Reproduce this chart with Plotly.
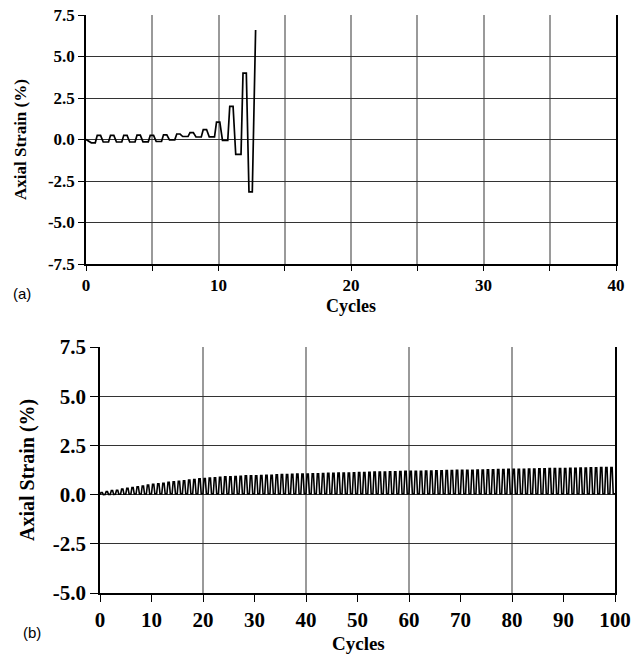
import plotly.graph_objects as go

# ---------------- data ----------------
# (a) peak strain of each cycle 1..12, trough after each peak (cycle 0..12), final value
peak_a = [0.25, 0.25, 0.25, 0.26, 0.25, 0.28, 0.33, 0.42, 0.6, 1.05, 2.0, 4.0]
trough_a = [-0.2, -0.15, -0.15, -0.15, -0.14, -0.12, -0.02, 0.18, 0.15, 0.16, -0.05, -0.9, -3.15]
final_a = 6.6

# (b) peak and trough strain of each cycle 1..100
peak_b = [0.10, 0.15, 0.20, 0.22, 0.28, 0.32, 0.36, 0.40, 0.44, 0.48,
          0.52, 0.55, 0.58, 0.62, 0.65, 0.68, 0.70, 0.74, 0.76, 0.80,
          0.82, 0.84, 0.86, 0.88, 0.90, 0.90, 0.92, 0.93, 0.95, 0.96,
          0.96, 0.97, 0.98, 0.98, 1.00, 1.02, 1.02, 1.03, 1.04, 1.05,
          1.05, 1.06, 1.06, 1.07, 1.08, 1.08, 1.09, 1.10, 1.10, 1.11,
          1.12, 1.12, 1.13, 1.14, 1.14, 1.15, 1.16, 1.16, 1.17, 1.18,
          1.18, 1.18, 1.19, 1.20, 1.20, 1.21, 1.21, 1.22, 1.22, 1.23,
          1.23, 1.24, 1.24, 1.25, 1.25, 1.26, 1.26, 1.27, 1.27, 1.28,
          1.28, 1.29, 1.29, 1.30, 1.30, 1.31, 1.31, 1.32, 1.32, 1.33,
          1.33, 1.34, 1.34, 1.35, 1.35, 1.36, 1.36, 1.37, 1.37, 1.38]
trough_b = [0.00, 0.01, 0.01, 0.02, 0.02, 0.02, 0.03, 0.03, 0.03, 0.03] + [0.04] * 90

xt_a = [0, 5, 10, 15, 20, 25, 30, 35, 40]
xl_a = ["0", "", "10", "", "20", "", "30", "", "40"]
yt_a = [-7.5, -5.0, -2.5, 0.0, 2.5, 5.0, 7.5]
yl_a = ["-7.5", "-5.0", "-2.5", "0.0", "2.5", "5.0", "7.5"]
xt_b = [0, 10, 20, 30, 40, 50, 60, 70, 80, 90, 100]
yt_b = [-5.0, -2.5, 0.0, 2.5, 5.0, 7.5]
yl_b = ["-5.0", "-2.5", "0.0", "2.5", "5.0", "7.5"]

# ---------------- build polylines ----------------
xa, ya = [0.0], [0.0]
for n, p in enumerate(peak_a, start=1):
    t_prev = trough_a[n - 1]
    t_next = trough_a[n]
    xa += [n - 0.6, n - 0.3, n - 0.15, n + 0.1, n + 0.3]
    ya += [t_prev, t_prev, p, p, t_next]
xa += [12.55, 12.8]
ya += [trough_a[-1], final_a]

xb, yb = [], []
for i, (p, t) in enumerate(zip(peak_b, trough_b)):
    c = float(i)
    xb += [c, c + 0.2, c + 0.45, c + 0.65]
    yb += [t, p, p, t]
xb.append(100.0)
yb.append(trough_b[-1])

fig = go.Figure()
fig.add_trace(go.Scatter(x=xa, y=ya, mode="lines", line=dict(color="black", width=1.7),
                         xaxis="x", yaxis="y", showlegend=False))
fig.add_trace(go.Scatter(x=xb, y=yb, mode="lines", line=dict(color="black", width=1.6),
                         xaxis="x2", yaxis="y2", showlegend=False))

tf_a = dict(family="Liberation Serif", size=17, color="black", weight="bold")
tf_b = dict(family="Liberation Serif", size=21, color="black", weight="bold")
vgrid = "#9a9a9a"
hgrid = "#333333"

fig.update_layout(
    width=638, height=657, margin=dict(l=0, r=0, t=0, b=0),
    paper_bgcolor="white", plot_bgcolor="white",
    xaxis=dict(domain=[86 / 638, 616 / 638], anchor="y", range=[0, 40], automargin=False,
               tickvals=xt_a, ticktext=xl_a, ticks="outside", ticklen=5, tickcolor="black",
               showgrid=True, gridcolor=vgrid, gridwidth=1.5, zeroline=False,
               showline=True, linecolor="black", linewidth=1.5, tickfont=tf_a),
    yaxis=dict(domain=[(657 - 264) / 657, (657 - 15) / 657], anchor="x", range=[-7.5, 7.5],
               automargin=False,
               tickvals=yt_a, ticktext=yl_a, ticks="outside", ticklen=6, tickcolor="black",
               showgrid=True, gridcolor=hgrid, gridwidth=1, zeroline=False,
               showline=True, linecolor="black", linewidth=1.5, mirror=True, tickfont=tf_a),
    xaxis2=dict(domain=[100 / 638, 615 / 638], anchor="y2", range=[0, 100], automargin=False,
                tickvals=xt_b, ticks="outside", ticklen=7, tickcolor="black",
                showgrid=False, zeroline=False,
                minor=dict(tickvals=[20, 40, 60, 80, 100], showgrid=True, gridcolor=vgrid,
                           gridwidth=1.5, ticks=""),
                showline=True, linecolor="black", linewidth=1.5, tickfont=tf_b),
    yaxis2=dict(domain=[(657 - 593) / 657, (657 - 347) / 657], anchor="x2", range=[-5.0, 7.5],
                automargin=False,
                tickvals=yt_b, ticktext=yl_b, ticks="outside", ticklen=8, tickcolor="black",
                showgrid=True, gridcolor=hgrid, gridwidth=1, zeroline=False,
                showline=True, linecolor="black", linewidth=1.5, mirror=True, tickfont=tf_b),
)

def ann(text, x, y, size, family="Liberation Serif", bold=True, angle=0):
    fig.add_annotation(text=text, x=x / 638, y=1 - y / 657, xref="paper", yref="paper",
                       showarrow=False, textangle=angle, xanchor="center", yanchor="middle",
                       font=dict(family=family, size=size, color="black",
                                 weight="bold" if bold else "normal"))

ann("Axial Strain (%)", 20, 140, 17, angle=-90)
ann("Cycles", 351, 306, 18)
ann("(a)", 22, 293, 15, family="Liberation Sans", bold=False)
ann("Axial Strain (%)", 27, 470, 20, angle=-90)
ann("Cycles", 358, 643, 19)
ann("(b)", 32, 632, 15, family="Liberation Sans", bold=False)

fig.write_html("out.html", config={"displayModeBar": False},
               post_script="document.body.style.margin='0';document.body.style.overflow='hidden';")
